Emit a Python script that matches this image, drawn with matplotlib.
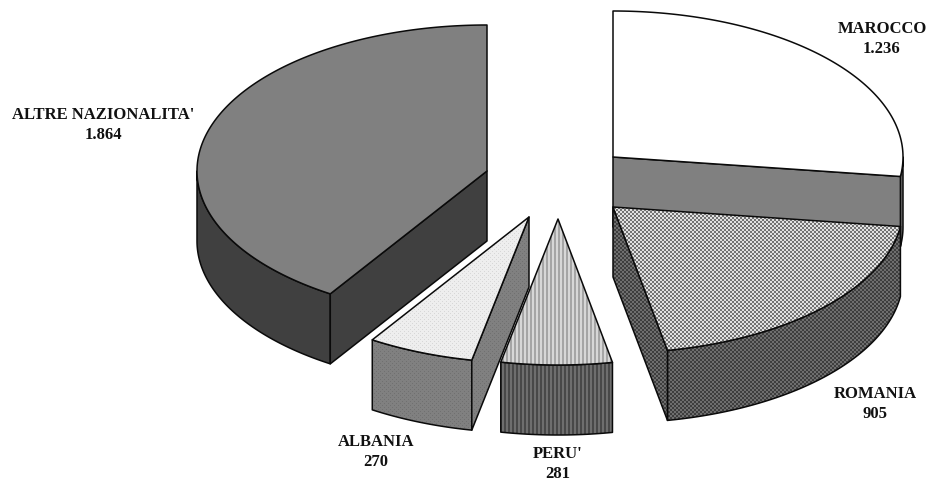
import numpy as np
import matplotlib
matplotlib.use("Agg")
import matplotlib.pyplot as plt
from matplotlib.patches import Polygon

# ---- data ----
categories = ["MAROCCO", "ROMANIA", "PERU'", "ALBANIA", "ALTRE NAZIONALITA'"]
values = [1236, 905, 281, 270, 1864]

# ---- layout (pixels) ----
W, H = 929, 481
RX, RY = 290, 146      # ellipse radii of the pie top
DEPTH = 70
CX, CY = 550, 190      # pie centre before exploding
explode = [(63, -32), (63, 18), (8, 30), (-21, 28), (-63, -18)]
draw_order = [4, 3, 0, 2, 1]
label_pos = [(882, 39), (875, 404), (558, 464), (376, 452), (103, 125)]

yy, xx = np.mgrid[0:H, 0:W]


def checker(c1, c2):
    return np.where((xx // 2 + yy // 2) % 2 == 0, c1, c2)


def stripes(c1, c2):
    return np.where(xx % 4 < 2, c1, c2)


def dots(c1, c2):
    return np.where((xx % 4 == 0) & (yy % 4 == 0) | (xx % 4 == 2) & (yy % 4 == 2), c2, c1)


def flat(c):
    return np.full((H, W), c)


# grey fills per slice: top surface, then the sides
top_fill = [flat(255), checker(225, 115), stripes(215, 165), dots(238, 215), flat(128)]
side_fill = [flat(128), checker(62, 110), stripes(72, 110), dots(128, 112), flat(64)]


def arc(t0, t1, cx, cy):
    t = np.radians(np.linspace(t0, t1, max(int(abs(t1 - t0) * 3), 2)))
    return np.column_stack([cx + RX * np.sin(t), cy - RY * np.cos(t)])


def fill_poly(ax, pts, pattern, z):
    im = ax.imshow(pattern, cmap="gray", vmin=0, vmax=255, extent=(0, W, H, 0),
                   interpolation="nearest", aspect="auto", zorder=z)
    edge = Polygon(pts, closed=True, facecolor="none", edgecolor="#0a0a0a",
                   linewidth=1.1, joinstyle="round", zorder=z + 0.5)
    ax.add_patch(edge)
    im.set_clip_path(edge)


fig = plt.figure(figsize=(W / 100, H / 100), dpi=100)
ax = fig.add_axes([0, 0, 1, 1])

# angles run clockwise from twelve o'clock
edges = np.concatenate([[0], np.cumsum(values)]) / sum(values) * 360

z = 1
for i in draw_order:
    t0, t1 = edges[i], edges[i + 1]
    cx, cy = CX + explode[i][0], CY + explode[i][1]
    apex = np.array([[cx, cy]])
    down = np.array([0, DEPTH])

    # outer rim, only the part facing the viewer
    r0, r1 = max(t0, 90), min(t1, 270)
    if r1 > r0:
        top_edge = arc(r0, r1, cx, cy)
        fill_poly(ax, np.vstack([top_edge, (top_edge + down)[::-1]]), side_fill[i], z)
        z += 1

    # cut faces that turn towards the viewer
    for t, sign in ((t0, -1), (t1, 1)):
        if -sign * np.sin(np.radians(t)) < 0:
            p = arc(t, t, cx, cy)[0]
            face = np.array([apex[0], p, p + down, apex[0] + down])
            fill_poly(ax, face, side_fill[i], z)
            z += 1

    fill_poly(ax, np.vstack([apex, arc(t0, t1, cx, cy)]), top_fill[i], z)
    z += 1

for name, val, (x, y) in zip(categories, values, label_pos):
    txt = f"{val:,}".replace(",", ".")
    ax.text(x, y, f"{name}\n{txt}", ha="center", va="center", family="Liberation Serif",
            fontweight="bold", fontsize=12, color="#111111", linespacing=1.4, zorder=z)

ax.set_xlim(0, W)
ax.set_ylim(H, 0)
ax.axis("off")
fig.savefig("out.png", dpi=100, facecolor="white")
